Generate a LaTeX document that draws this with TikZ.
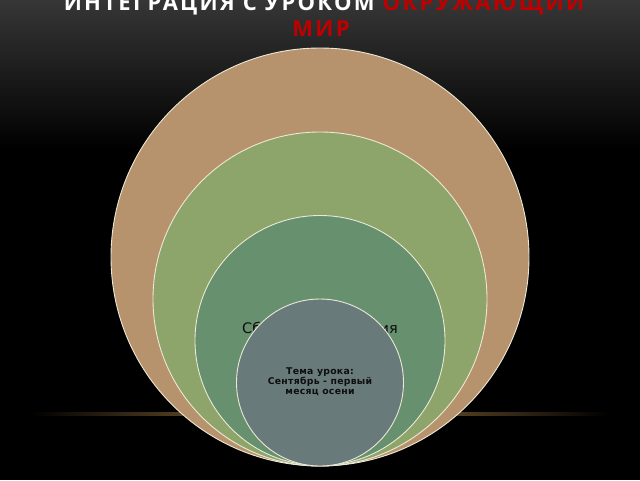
\documentclass[tikz,border=0pt]{standalone}
\usepackage{fontspec}
\setmainfont{DejaVu Sans}
\newfontfamily\titlefont[LetterSpace=10.5]{Open Sans Bold}
\newfontfamily\bodyfont{DejaVu Sans}
\newfontfamily\bodybold[LetterSpace=3]{DejaVu Sans Bold}
\definecolor{bgtop}{HTML}{363636}
\definecolor{ringA}{HTML}{B7936D}
\definecolor{ringB}{HTML}{8DA46A}
\definecolor{ringC}{HTML}{67906F}
\definecolor{ringD}{HTML}{697A7B}
\definecolor{rimcol}{HTML}{ECE8D6}
\definecolor{titlered}{HTML}{C00000}
\definecolor{glowcol}{HTML}{9A7440}
\definecolor{inktext}{HTML}{0E0E0E}
\begin{document}
\begin{tikzpicture}[x=1pt,y=-1pt,
  ring/.style={circle,draw=rimcol,line width=0.9pt,inner sep=0pt,minimum size=#1},
  inner text/.style={font=\bodybold\fontsize{9.3}{10}\selectfont,text=inktext,align=center}]
\useasboundingbox (0,0) rectangle (640,480);
\fill[black] (0,0) rectangle (640,480);
\shade[top color=bgtop,bottom color=black] (0,0) rectangle (640,150);
% glow line
\shade[left color=black,right color=black,middle color=glowcol] (30,412.5) rectangle (610,415);
% title
\node[font=\titlefont\fontsize{22}{26}\selectfont,text=white,anchor=base] (t1) at (324,10.5) {ИНТЕГРАЦИЯ С УРОКОМ \textcolor{titlered}{ОКРУЖАЮЩИЙ}};
\node[font=\titlefont\fontsize{22}{26}\selectfont,text=titlered,anchor=base] (t2) at (321,36) {МИР};
% circles
\node[ring=418pt,fill=ringA] (c1) at (320,257) {};
\node[ring=334pt,fill=ringB] (c2) at (320,299) {};
\node[ring=250pt,fill=ringC] (c3) at (320,340.5) {};
\node[font=\bodyfont\fontsize{14.5}{15}\selectfont,text=inktext,anchor=base] (l3) at (320,333) {Сборник для чтения};
\node[ring=167pt,fill=ringD] (c4) at (320,382.5) {};
\node[inner text] (l4) at (320,381.5) {Тема урока:\\Сентябрь - первый\\месяц осени};
\end{tikzpicture}
\end{document}
